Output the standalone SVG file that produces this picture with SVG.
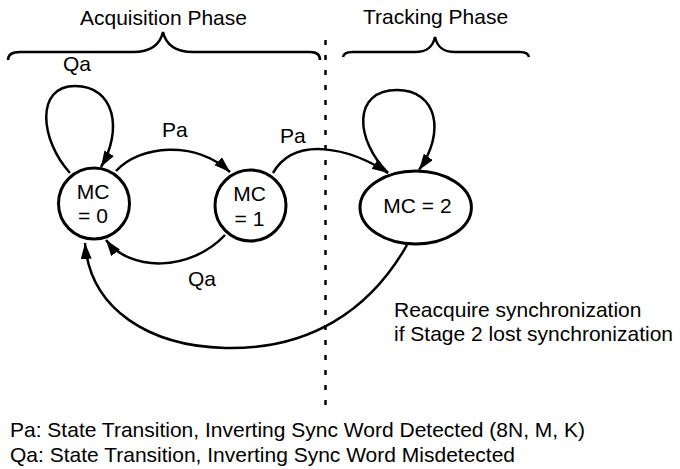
<svg xmlns="http://www.w3.org/2000/svg" width="680" height="469" viewBox="0 0 680 469">
<style>
text{font-family:"Liberation Sans",Arial,sans-serif;font-size:21px;fill:#000}
.c{text-anchor:middle}
.node{fill:#fff;stroke:#000;stroke-width:3}
.edge{fill:none;stroke:#000;stroke-width:2.5}
.brace{fill:none;stroke:#000;stroke-width:2.5}
.div{fill:none;stroke:#000;stroke-width:2.5;stroke-dasharray:5 10}
</style>
<defs>
<marker id="ah" markerUnits="userSpaceOnUse" markerWidth="17" markerHeight="12" refX="16" refY="5.5" orient="auto">
<path d="M0,0 L16,5.5 L0,11 z" fill="#000"/>
</marker>
</defs>
<rect width="680" height="469" fill="#fff"/>
<g id="phases">
<text x="80" y="25">Acquisition Phase</text>
<path class="brace" d="M8,60 Q8,52 20,52 L133,52 C150,52 160,45 163,32 C166,45 176,52 193,52 L310,52 Q320,52 320,60"/>
<text x="363" y="24">Tracking Phase</text>
<path class="brace" d="M343,57 Q344,52 352,52 L415,52 C428,52 433,46 435,37 C437,46 442,52 455,52 L520,52 Q528,52 529,57"/>
<line class="div" x1="325.5" y1="40" x2="325.5" y2="406"/>
</g>
<g id="connectors">
<path class="edge" marker-end="url(#ah)" d="M70,173 C40,140 35,86 75,86 C115,86 123,130 101,167"/>
<path class="edge" marker-end="url(#ah)" d="M116,171 C140,145 195,140 230,172"/>
<path class="edge" marker-end="url(#ah)" d="M225,235 C190,272 130,272 106,240"/>
<path class="edge" marker-end="url(#ah)" d="M273,173 C295,135 350,148 388,173"/>
<path class="edge" marker-end="url(#ah)" d="M388,173 C355,140 352,90 397,90 C437,90 446,132 419,170"/>
<path class="edge" marker-end="url(#ah)" d="M407,245 C370,310 310,350 225,348 C150,346 90,310 85,243"/>
<text x="63" y="71">Qa</text>
<text x="162" y="137">Pa</text>
<text x="280" y="143">Pa</text>
<text x="188" y="286">Qa</text>
<text x="394" y="317">Reacquire synchronization</text>
<text x="394" y="341">if Stage 2 lost synchronization</text>
</g>
<g id="mc0">
<circle class="node" cx="94" cy="203.5" r="35.5"/>
<text class="c" x="93" y="199">MC</text>
<text class="c" x="93" y="223">= 0</text>
</g>
<g id="mc1">
<circle class="node" cx="250.5" cy="205.5" r="35.5"/>
<text class="c" x="249.5" y="201">MC</text>
<text class="c" x="249.5" y="226">= 1</text>
</g>
<g id="mc2">
<ellipse class="node" cx="415.7" cy="207.5" rx="55.7" ry="36.5"/>
<text class="c" x="417.5" y="213">MC = 2</text>
</g>
<g id="legend">
<text x="10" y="437">Pa: State Transition, Inverting Sync Word Detected (8N, M, K)</text>
<text x="10" y="462">Qa: State Transition, Inverting Sync Word Misdetected</text>
</g>
</svg>
